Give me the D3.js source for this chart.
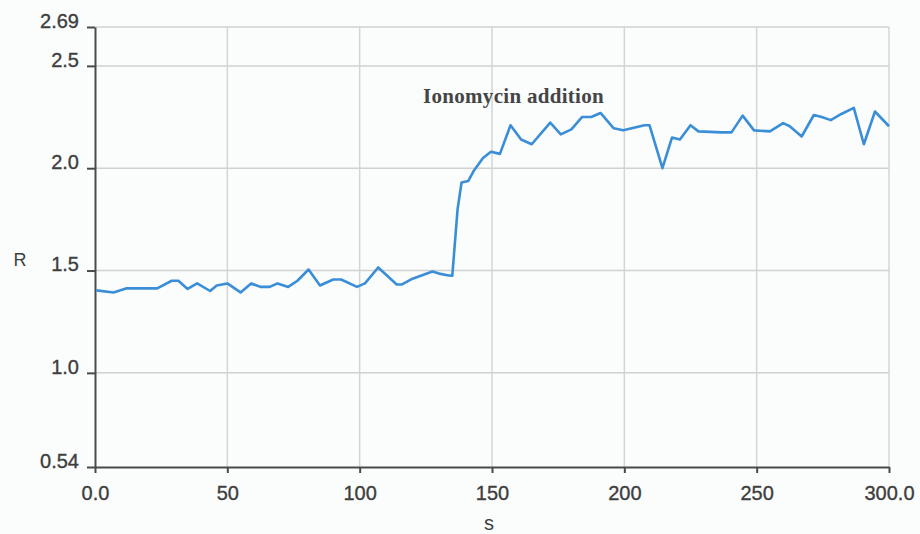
<!DOCTYPE html>
<html>
<head>
<meta charset="utf-8">
<script src="https://cdn.jsdelivr.net/npm/d3@7"></script>
<style>
  body { margin: 0; background: #fbfcfc; }
  svg { display: block; }
  .tick text { font-family: "Liberation Sans", Arial, sans-serif; fill: #3e3e3e; stroke: #3e3e3e; stroke-width: 0.35px; }
</style>
</head>
<body>
<svg id="chart" width="920" height="534"></svg>
<script>
// time (s) and ratio R
const times = [0.5, 7, 12, 23.5, 29, 31.5, 35, 38.6, 43.5, 46, 50, 55, 59, 62.5, 66, 69, 73, 76.5, 80.7, 85,
  90, 93, 99, 102, 107, 114, 116, 120, 127.5, 130, 133.7, 135, 137, 138.5, 141, 143, 146.6, 149.6, 153, 157,
  161, 165, 172, 176, 180, 184, 187.5, 191, 196, 199.6, 207.6, 209.5, 214.4, 218, 221, 225, 228, 236.7, 240.5,
  244.7, 249, 255, 260, 262.5, 267, 271.6, 274.6, 278, 282, 286.7, 290.5, 294.7, 300];
const ratios = [1.403, 1.393, 1.413, 1.413, 1.45, 1.45, 1.41, 1.437, 1.40, 1.427, 1.437, 1.393, 1.437, 1.42, 1.42, 1.437, 1.42, 1.45, 1.505, 1.427,
  1.456, 1.456, 1.42, 1.437, 1.515, 1.432, 1.432, 1.46, 1.495, 1.485, 1.476, 1.475, 1.80, 1.93, 1.937, 1.985, 2.05, 2.08, 2.07, 2.21,
  2.14, 2.117, 2.223, 2.165, 2.19, 2.25, 2.25, 2.27, 2.195, 2.185, 2.21, 2.21, 2.0, 2.15, 2.14, 2.21, 2.18, 2.175, 2.175,
  2.257, 2.185, 2.18, 2.22, 2.205, 2.155, 2.26, 2.25, 2.235, 2.265, 2.295, 2.117, 2.277, 2.205];

const xTicks = [0, 50, 100, 150, 200, 250, 300];
const xTickLabels = ['0.0', '50', '100', '150', '200', '250', '300.0'];
const yTicks = [0.54, 1.0, 1.5, 2.0, 2.5, 2.69];
const yTickLabels = ['0.54', '1.0', '1.5', '2.0', '2.5', '2.69'];

const svg = d3.select('#chart');

const plotL = 95, plotR = 889, plotT = 27, plotB = 467;

const x = d3.scaleLinear().domain([0, 300]).range([plotL, plotR]);
const y = d3.scaleLinear().domain([0.54, 2.69]).range([plotB, plotT]);

// grid
svg.append('g')
  .selectAll('line')
  .data(xTicks.slice(1))
  .join('line')
  .attr('x1', d => x(d)).attr('x2', d => x(d))
  .attr('y1', plotT).attr('y2', plotB)
  .attr('stroke', '#d4d6d6').attr('stroke-width', 1.5);

svg.append('g')
  .selectAll('line')
  .data(yTicks.slice(1))
  .join('line')
  .attr('x1', plotL).attr('x2', plotR)
  .attr('y1', d => y(d)).attr('y2', d => y(d))
  .attr('stroke', '#d0d2d2').attr('stroke-width', 1.5);

// axes
const xAxis = svg.append('g')
  .attr('transform', `translate(0,${plotB})`)
  .call(d3.axisBottom(x).tickValues(xTicks).tickFormat((d, i) => xTickLabels[i]).tickSizeInner(6).tickSizeOuter(0).tickPadding(13));
xAxis.select('.domain').attr('stroke', '#4a4a4a').attr('stroke-width', 2);
xAxis.selectAll('.tick line').attr('stroke', '#4a4a4a').attr('stroke-width', 2);
xAxis.selectAll('.tick text').style('font-size', '20px');

const yAxis = svg.append('g')
  .attr('transform', `translate(${plotL},0)`)
  .call(d3.axisLeft(y).tickValues(yTicks).tickFormat((d, i) => yTickLabels[i]).tickSizeInner(8).tickSizeOuter(0).tickPadding(8));
yAxis.select('.domain').attr('stroke', '#4a4a4a').attr('stroke-width', 2);
yAxis.selectAll('.tick line').attr('stroke', '#4a4a4a').attr('stroke-width', 2);
yAxis.selectAll('.tick text').style('font-size', '20px').attr('y', -6);

// trace
const line = d3.line()
  .x((d, i) => x(times[i]))
  .y(d => y(d));

svg.append('path')
  .datum(ratios)
  .attr('d', line)
  .attr('fill', 'none')
  .attr('stroke', '#3a8ed8')
  .attr('stroke-width', 2.6)
  .attr('stroke-linejoin', 'round');

// labels
svg.append('text')
  .attr('x', 20).attr('y', 266)
  .attr('text-anchor', 'middle')
  .style('font-family', '"Liberation Sans", Arial, sans-serif')
  .style('font-size', '18px')
  .attr('fill', '#3e3e3e')
  .text('R');

svg.append('text')
  .attr('x', 489).attr('y', 530)
  .attr('text-anchor', 'middle')
  .style('font-family', '"Liberation Sans", Arial, sans-serif')
  .style('font-size', '20px')
  .attr('fill', '#3e3e3e')
  .text('s');

svg.append('text')
  .attr('x', 423).attr('y', 103)
  .style('font-family', '"Liberation Serif", "Times New Roman", serif')
  .style('font-size', '21px')
  .style('font-weight', 'bold')
  .style('letter-spacing', '0.3px')
  .attr('fill', '#454545')
  .text('Ionomycin addition');
</script>
</body>
</html>
